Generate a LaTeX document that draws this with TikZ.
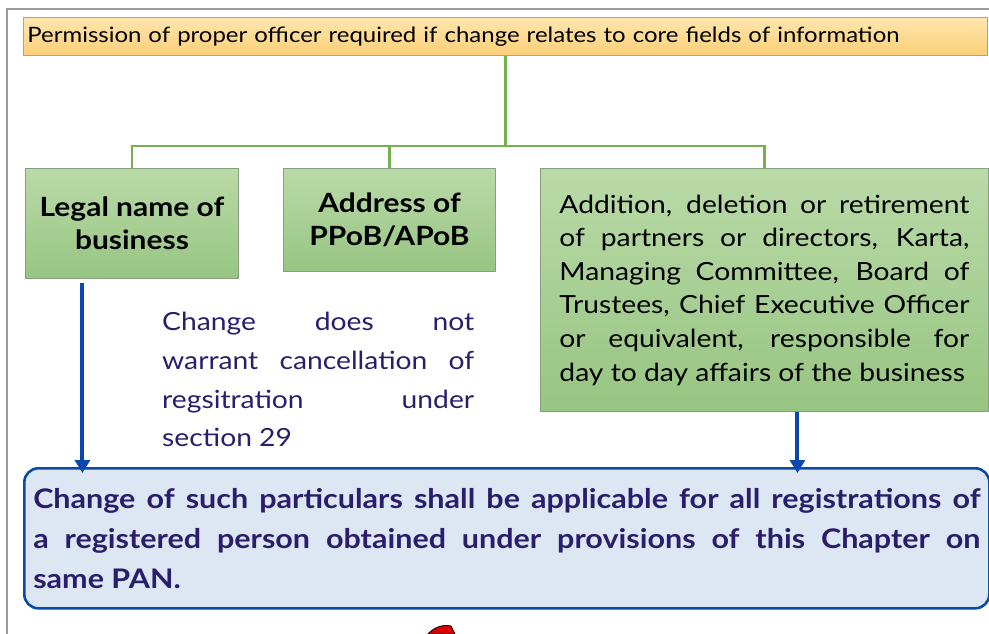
\documentclass[tikz,border=0pt]{standalone}
\usepackage{fontspec}
\setmainfont[FakeStretch=1.13]{Lato}
\usetikzlibrary{arrows.meta,calc}
\definecolor{orgtop}{HTML}{FFE6AE}
\definecolor{orgbot}{HTML}{FCCF78}
\definecolor{orgline}{HTML}{B8A27C}
\definecolor{grntop}{HTML}{BADAA8}
\definecolor{grnbot}{HTML}{97C582}
\definecolor{grnline}{HTML}{86A07A}
\definecolor{conn}{HTML}{74B04E}
\definecolor{arrblue}{HTML}{0A47AF}
\definecolor{botfill}{HTML}{DDE7F3}
\definecolor{botline}{HTML}{0B4BA8}
\definecolor{txtpurple}{HTML}{2A1D6B}
\definecolor{framegray}{HTML}{9A9A9A}
\tikzset{
  topbox/.style={draw=orgline, line width=0.8pt, top color=orgtop, bottom color=orgbot, rectangle, inner xsep=4pt, inner ysep=0pt, align=left},
  grnbox/.style={draw=grnline, line width=0.9pt, top color=grntop, bottom color=grnbot, rectangle, inner sep=0pt},
  greenconn/.style={draw=conn, line width=2.4pt},
  bluearr/.style={draw=arrblue, line width=4pt, -{Triangle[width=15pt,length=13pt]}},
  botbox/.style={draw=botline, line width=2.6pt, fill=botfill, rounded corners=14pt, rectangle, inner xsep=9pt, inner ysep=0pt},
}
\begin{document}
\begin{tikzpicture}[x=1pt,y=-1pt]
\useasboundingbox (0,0) rectangle (989,633);
% frame
\draw[framegray, line width=1.2pt] (1000,9) -- (7,9) -- (7,640);
% top box
\node[topbox, anchor=north west, minimum width=964pt, minimum height=38pt, text width=956pt,
      font=\fontsize{21.2}{26}\selectfont] (top) at (23,17)
  {Permission of proper officer required if change relates to core fields of information};
% green boxes
\node[grnbox, anchor=north west, minimum width=213pt, minimum height=110pt, align=center,
      font=\fontsize{26.5}{33}\selectfont\bfseries] (b1) at (25,168)
  {Legal name of\\business};
\node[grnbox, anchor=north west, minimum width=212pt, minimum height=103pt, align=center,
      font=\fontsize{26.5}{33}\selectfont\bfseries] (b2) at (283,168)
  {Address of\\PPoB/APoB};
\node[grnbox, anchor=north west, minimum width=448pt, minimum height=243pt, text width=410pt, inner xsep=19pt, align=justify,
      font=\fontsize{25}{33.6}\selectfont] (b3) at (540,168)
  {Addition, deletion or retirement\linebreak of partners or directors, Karta,\linebreak Managing Committee, Board of\linebreak Trustees, Chief Executive Officer\linebreak or equivalent, responsible for\linebreak day to day affairs of the business};
% connectors
\coordinate (hub) at ($(top.south)+(0,90)$);
\draw[greenconn] (top.south) -- (hub);
\draw[greenconn] (b1.north) |- (hub);
\draw[greenconn] (b3.north) |- (hub);
\draw[greenconn] (b2.north) -- (b2.north |- hub);
% middle text
\node[anchor=north west, text width=312pt, inner sep=0pt, align=justify, text=txtpurple,
      font=\fontsize{25}{38.7}\selectfont] (note) at (162,312)
  {Change does not\linebreak warrant cancellation of\linebreak regsitration under\linebreak section 29};
% bottom box
\node[botbox, anchor=north west, minimum width=965pt, minimum height=140pt, text width=947pt, align=justify, text=txtpurple,
      font=\fontsize{27}{40}\selectfont\bfseries] (bot) at (23,467)
  {Change of such particulars shall be applicable for all registrations of\linebreak a registered person obtained under provisions of this Chapter on\linebreak same PAN.};
% arrows
\draw[bluearr] ([xshift=-49.5pt,yshift=-4pt]b1.south) -- ([xshift=-49.5pt,yshift=-6pt]b1.south |- bot.north);
\draw[bluearr] ([xshift=33pt]b3.south) -- ([xshift=33pt,yshift=-6pt]b3.south |- bot.north);
% partial red icon at the bottom edge
\filldraw[fill=red!85!black, draw=black, line width=0.8pt] (428,634) .. controls (434,627) and (444,624) .. (451,626) -- (455,634) -- cycle;
\end{tikzpicture}
\end{document}
